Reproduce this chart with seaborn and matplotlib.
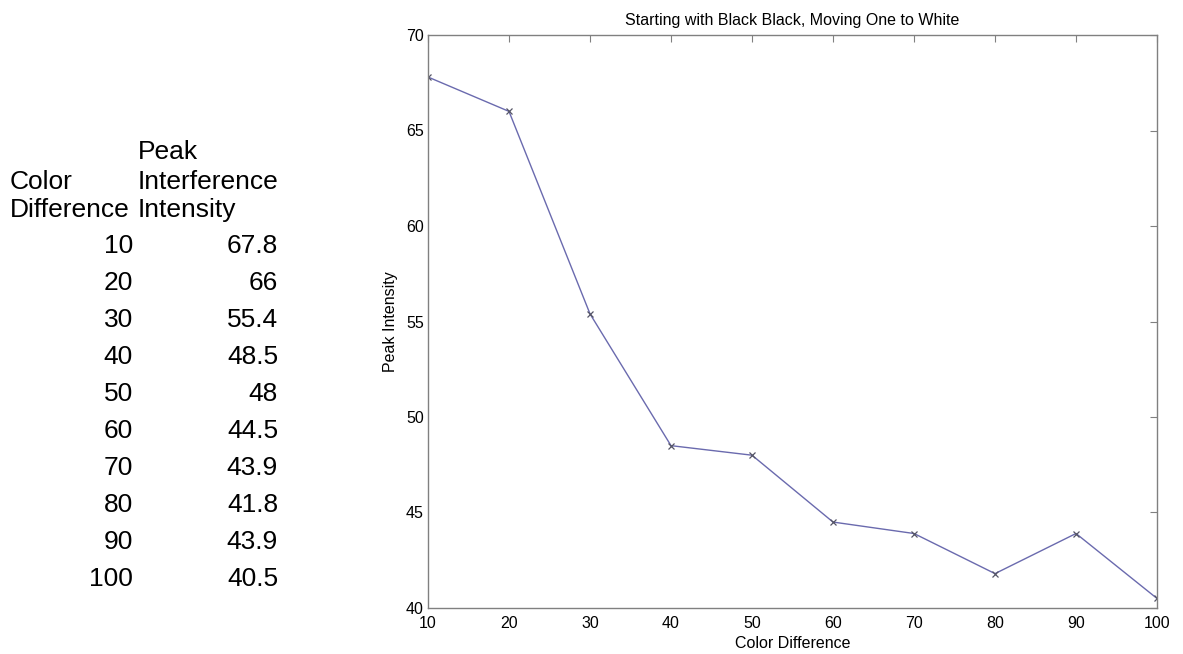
import matplotlib
matplotlib.use("Agg")
import matplotlib.pyplot as plt
import seaborn as sns
import pandas as pd

color_difference = [10, 20, 30, 40, 50, 60, 70, 80, 90, 100]
peak_intensity = [67.8, 66, 55.4, 48.5, 48, 44.5, 43.9, 41.8, 43.9, 40.5]
table_values = ["67.8", "66", "55.4", "48.5", "48", "44.5", "43.9", "41.8", "43.9", "40.5"]
x_ticks = [10, 20, 30, 40, 50, 60, 70, 80, 90, 100]
y_ticks = [40, 45, 50, 55, 60, 65, 70]

sns.set_style("white")
plt.rcParams['font.family'] = ['Liberation Sans', 'DejaVu Sans']
plt.rcParams['text.color'] = 'black'
plt.rcParams['axes.labelcolor'] = 'black'
plt.rcParams['xtick.color'] = '#808080'
plt.rcParams['ytick.color'] = '#808080'
plt.rcParams['xtick.labelcolor'] = 'black'
plt.rcParams['ytick.labelcolor'] = 'black'

df = pd.DataFrame({"Color Difference": color_difference, "Peak Intensity": peak_intensity})

fig = plt.figure(figsize=(11.83, 6.54), dpi=100)
ax = fig.add_axes([428/1183, 1 - 608/654, (1157 - 428)/1183, (608 - 35)/654])

sns.lineplot(data=df, x="Color Difference", y="Peak Intensity", ax=ax,
             color="#6a6aae", linewidth=1.0, marker="x", markersize=5,
             markeredgecolor="#555566", markeredgewidth=0.9)

ax.set_xlim(10, 100)
ax.set_ylim(40, 70)
ax.set_xticks(x_ticks)
ax.set_yticks(y_ticks)
ax.tick_params(direction="in", top=True, right=True, length=5, width=0.8,
               labelsize=11.5)
ax.tick_params(axis="x", pad=5.5)
ax.tick_params(axis="y", pad=3)
for s in ax.spines.values():
    s.set_color("#808080")
    s.set_linewidth(1.0)
ax.set_xlabel("Color Difference", fontsize=11.5, labelpad=4)
ax.set_ylabel("Peak Intensity", fontsize=11.5, labelpad=6)
ax.set_title("Starting with Black Black, Moving One to White", fontsize=11.5, pad=7)

# Data table on the left
fs = 19
fig.text(10/1183, 1 - 182/654, "Color", fontsize=fs, ha="left", va="center")
fig.text(10/1183, 1 - 210/654, "Difference", fontsize=fs, ha="left", va="center")
fig.text(138/1183, 1 - 152/654, "Peak", fontsize=fs, ha="left", va="center")
fig.text(138/1183, 1 - 182/654, "Interference", fontsize=fs, ha="left", va="center")
fig.text(138/1183, 1 - 210/654, "Intensity", fontsize=fs, ha="left", va="center")
row0 = 246
step = 37
for i, (cd, v) in enumerate(zip(color_difference, table_values)):
    y = 1 - (row0 + i * step) / 654
    fig.text(133/1183, y, str(cd), fontsize=fs, ha="right", va="center")
    fig.text(278/1183, y, v, fontsize=fs, ha="right", va="center")

fig.savefig("out.png", dpi=100)
